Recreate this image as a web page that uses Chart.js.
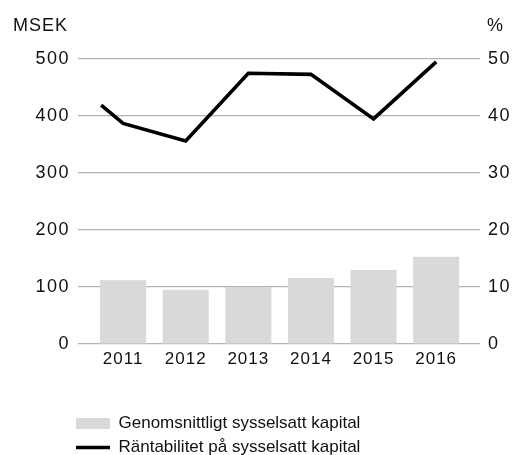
<!DOCTYPE html>
<html>
<head>
<meta charset="utf-8">
<script src="https://cdn.jsdelivr.net/npm/chart.js@4/dist/chart.umd.min.js"></script>
<style>
	html, body { margin: 0; padding: 0; background: #fff; }
	canvas { display: block; }
</style>
</head>
<body>
<canvas id="chart" width="515" height="455"></canvas>
<script>
// Data
const years = [2011, 2012, 2013, 2014, 2015, 2016]
const capital = [112, 95, 100, 116, 130, 153]
const returnYears = [2010.65, 2011, 2012, 2013, 2014, 2015, 2016]
const returnPct = [41.9, 38.7, 35.6, 47.5, 47.3, 39.5, 49.5]

const capitalLabel = 'Genomsnittligt sysselsatt kapital'
const returnLabel = 'Räntabilitet på sysselsatt kapital'

const FONT = '"Liberation Sans", Arial, sans-serif'
Chart.defaults.font.family = FONT
Chart.defaults.color = '#111'

// tick labels in the original are slightly tracked
const tracking = {
	id: 'tracking',
	beforeDraw(chart, args, opts) {
		Object.values(chart.scales).forEach(scale => {
			const spacing = opts[scale.id]
			if (!spacing || scale._tracked) return
			const drawLabels = scale.drawLabels
			scale.drawLabels = function (area) {
				this.ctx.save()
				this.ctx.letterSpacing = spacing
				drawLabels.call(this, area)
				this.ctx.restore()
			}
			scale._tracked = true
		})
	},
}

// legend sits under the plot, left edge in line with the bars
const legendPlace = {
	id: 'legendPlace',
	afterLayout(chart) {
		const lg = chart.legend
		lg.left = chart.chartArea.left - 9
		lg.top = 408
		lg.bottom = lg.top + lg.height
	},
}

// axis unit labels at the top corners
const unitTitles = {
	id: 'unitTitles',
	afterDraw(chart) {
		const ctx = chart.ctx
		ctx.save()
		ctx.font = '18px ' + FONT
		ctx.letterSpacing = '1px'
		ctx.fillStyle = '#111'
		ctx.textBaseline = 'alphabetic'
		ctx.textAlign = 'left'
		ctx.fillText('MSEK', 13, 31)
		ctx.fillText('%', chart.chartArea.right + 7, 31)
		ctx.restore()
	},
}

new Chart(document.getElementById('chart'), {
	type: 'bar',
	data: {
		datasets: [
			{
				label: capitalLabel,
				data: years.map((y, i) => ({ x: y, y: capital[i] })),
				backgroundColor: '#d9d9d9',
				borderWidth: 0,
				categoryPercentage: 1,
				barPercentage: 0.735,
				yAxisID: 'y',
				order: 2,
			},
			{
				type: 'line',
				label: returnLabel,
				data: returnYears.map((y, i) => ({ x: y, y: returnPct[i] })),
				borderColor: '#000',
				backgroundColor: '#000',
				borderWidth: 3.6,
				borderJoinStyle: 'miter',
				pointRadius: 0,
				tension: 0,
				yAxisID: 'y2',
				order: 1,
			},
		],
	},
	options: {
		responsive: false,
		animation: false,
		layout: {
			padding: { top: 59, left: 0, right: 0, bottom: 0 },
		},
		scales: {
			x: {
				type: 'linear',
				offset: false,
				min: 2010.28,
				max: 2016.7,
				grid: { display: false, drawTicks: false },
				border: { display: false },
				ticks: {
					stepSize: 1,
					includeBounds: false,
					padding: 5,
					font: { size: 17 },
					callback: v => String(v),
				},
				afterFit(scale) {
					scale.height = scale.chart.height - 344 - scale.chart.legend.height
				},
			},
			y: {
				position: 'left',
				min: 0,
				max: 500,
				grid: { color: '#b5b5b5', lineWidth: 1.2, drawTicks: false },
				border: { display: false },
				ticks: { stepSize: 100, padding: 8, font: { size: 18 } },
				afterFit(scale) {
					scale.width = 78
				},
			},
			y2: {
				position: 'right',
				min: 0,
				max: 50,
				grid: { display: false, drawTicks: false },
				border: { display: false },
				ticks: { stepSize: 10, padding: 8, font: { size: 18 } },
				afterFit(scale) {
					scale.width = 35
				},
			},
		},
		plugins: {
			tooltip: { enabled: false },
			tracking: { x: '1px', y: '1.5px', y2: '1.5px' },
			legend: {
				position: 'bottom',
				align: 'start',
				labels: {
					usePointStyle: true,
					pointStyleWidth: 34,
					boxHeight: 11,
					padding: 7,
					color: '#111',
					font: { size: 17 },
					sort: (a, b) => a.datasetIndex - b.datasetIndex,
					generateLabels(chart) {
						const items = Chart.defaults.plugins.legend.labels.generateLabels(chart)
						items.forEach(item => {
							item.pointStyle = chart.data.datasets[item.datasetIndex].type === 'line' ? 'line' : 'rect'
						})
						return items
					},
				},
			},
		},
	},
	plugins: [tracking, legendPlace, unitTitles],
})
</script>
</body>
</html>
